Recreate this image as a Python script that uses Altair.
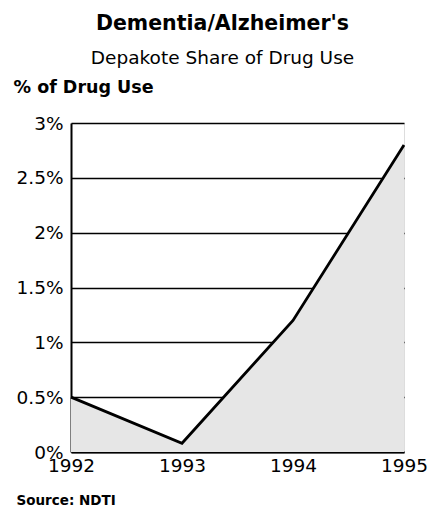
import altair as alt
import pandas as pd

years = [1992, 1993, 1994, 1995]
share = [0.5, 0.08, 1.2, 2.8]
y_ticks = [0, 0.5, 1, 1.5, 2, 2.5, 3]

df = pd.DataFrame({"year": years, "share": share})

FONT = "DejaVu Sans"

x = alt.X(
    "year:Q",
    scale=alt.Scale(domain=[1992, 1995], nice=False, zero=False),
    axis=alt.Axis(
        values=years,
        format="d",
        grid=False,
        ticks=False,
        domain=True,
        domainColor="black",
        domainWidth=2,
        labelFont=FONT,
        labelFontSize=18.5,
        labelColor="black",
        labelPadding=4,
        labelFlush=False,
        title="Source: NDTI",
        titleFont=FONT,
        titleFontSize=13.5,
        titleFontWeight="bold",
        titleColor="black",
        titleAnchor="start",
        titleAlign="left",
        titleBaseline="alphabetic",
        titleX=-55,
        titleY=52,
    ),
)

y = alt.Y(
    "share:Q",
    scale=alt.Scale(domain=[0, 3], nice=False),
    axis=alt.Axis(
        values=y_ticks,
        labelExpr="datum.value + '%'",
        grid=True,
        gridColor="black",
        gridWidth=1.5,
        gridOpacity=1,
        ticks=False,
        domain=True,
        domainColor="black",
        domainWidth=2,
        labelFont=FONT,
        labelFontSize=18.5,
        labelColor="black",
        labelPadding=8,
        title="% of Drug Use",
        titleFont=FONT,
        titleFontSize=17.5,
        titleFontWeight="bold",
        titleColor="black",
        titleAngle=0,
        titleAlign="left",
        titleBaseline="alphabetic",
        titleX=-58,
        titleY=-31,
    ),
)

area = alt.Chart(df).mark_area(color="#e6e6e6", opacity=1).encode(x=x, y=y)
line = alt.Chart(df).mark_line(color="black", strokeWidth=2.8).encode(x=x, y=y)

chart = (
    alt.layer(area, line)
    .properties(
        width=333,
        height=329,
        autosize=alt.AutoSizeParams(type="none"),
        padding={"left": 71, "top": 123, "right": 27, "bottom": 56},
        title=alt.TitleParams(
            text="Dementia/Alzheimer's",
            subtitle="Depakote Share of Drug Use",
            font=FONT,
            fontSize=20.5,
            fontWeight="bold",
            color="black",
            subtitleFont=FONT,
            subtitleFontSize=18.5,
            subtitleColor="black",
            subtitlePadding=14,
            anchor="middle",
            dx=-15,
            offset=11,
        ),
    )
    .configure_view(stroke="black", strokeWidth=2)
    .configure(background="white")
)

chart.save("out.html", embed_options={"renderer": "svg", "actions": False})
